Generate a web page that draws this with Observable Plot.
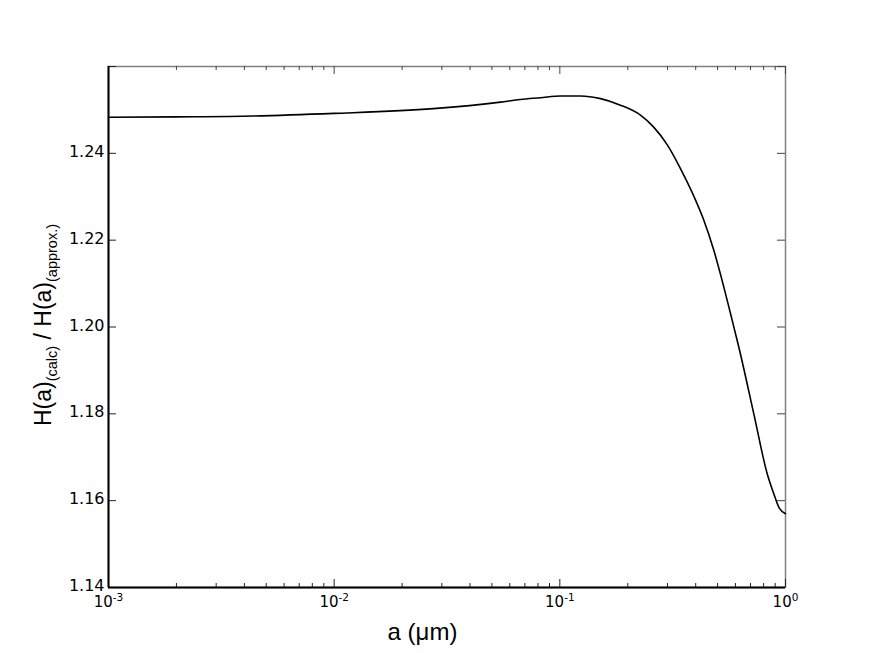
<!DOCTYPE html>
<html>
<head>
<meta charset="utf-8">
<script src="https://cdn.jsdelivr.net/npm/d3@7"></script>
<script src="https://cdn.jsdelivr.net/npm/@observablehq/plot@0.6"></script>
<style>
  html, body { margin: 0; padding: 0; background: #fff; }
  #chart { position: absolute; left: 0; top: 0; }
</style>
</head>
<body>
<div id="chart"></div>
<script>
// Grain radius a (µm) and ratio H(a)_(calc) / H(a)_(approx.)
const radius = [0.001, 0.002, 0.00439, 0.01, 0.0275, 0.0546, 0.0668, 0.0821, 0.1007, 0.1235, 0.1514, 0.1857, 0.2277, 0.2600, 0.2999, 0.3424, 0.3911, 0.4330, 0.4797, 0.5257, 0.5705, 0.6209, 0.7237, 0.8297, 0.8873, 0.9338, 1.0];
const ratio  = [1.2483, 1.2484, 1.2486, 1.2492, 1.2503, 1.2518, 1.2524, 1.2528, 1.2532, 1.2532, 1.2526, 1.2511, 1.2488, 1.2461, 1.2419, 1.2365, 1.2303, 1.2248, 1.2179, 1.2104, 1.2031, 1.1954, 1.1800, 1.1662, 1.1616, 1.1585, 1.1570];

const xMajorTicks = [0.001, 0.01, 0.1, 1];
const xTickLabels = ["10^-3", "10^-2", "10^-1", "10^0"];
const xMinorTicks = [0.001, 0.01, 0.1].flatMap(p => [2, 3, 4, 5, 6, 7, 8, 9].map(m => m * p));
const yTicks = [1.14, 1.16, 1.18, 1.20, 1.22, 1.24, 1.26];
const yTickLabels = [1.14, 1.16, 1.18, 1.20, 1.22, 1.24];
const xLabel = "a (μm)";
const yLabelParts = [["H(a)", false], ["(calc)", true], [" / H(a)", false], ["(approx.)", true]];

const data = radius.map((a, i) => ({a, r: ratio[i]}));

const W = 872, H = 653, mL = 108, mR = 87, mT = 66, mB = 66;
const plotW = W - mL - mR, plotH = H - mT - mB;

const xLabelOf = d => xTickLabels[xMajorTicks.findIndex(t => Math.abs(Math.log10(t) - Math.log10(d)) < 1e-6)];

const chart = Plot.plot({
  width: W, height: H,
  marginLeft: mL, marginRight: mR, marginTop: mT, marginBottom: mB,
  style: {fontFamily: "DejaVu Sans", fontSize: "15px", background: "white", color: "black", overflow: "visible"},
  x: {type: "log", domain: [0.001, 1], label: null},
  y: {domain: [1.14, 1.26], label: null},
  marks: [
    Plot.frame({stroke: "#808080", strokeWidth: 1.5}),
    // inward ticks, bottom
    Plot.ruleX(xMajorTicks, {x: d => d, insetTop: plotH - 8, stroke: "#222"}),
    Plot.ruleX(xMinorTicks, {x: d => d, insetTop: plotH - 4, stroke: "#222"}),
    // top
    Plot.ruleX(xMajorTicks, {x: d => d, insetBottom: plotH - 8, stroke: "#444"}),
    Plot.ruleX(xMinorTicks, {x: d => d, insetBottom: plotH - 4, stroke: "#444"}),
    // left
    Plot.ruleY(yTicks, {y: d => d, insetRight: plotW - 8, stroke: "#222"}),
    // right
    Plot.ruleY(yTicks, {y: d => d, insetLeft: plotW - 8, stroke: "#444"}),
    // black left / bottom spines
    Plot.ruleX([0.001], {x: d => d, stroke: "black", strokeWidth: 2}),
    Plot.ruleY([1.14], {y: d => d, stroke: "black", strokeWidth: 2}),
    Plot.axisX(xMajorTicks, {tickSize: 0, tickPadding: 9, tickFormat: xLabelOf, fontSize: 15, label: null}),
    Plot.axisY(yTickLabels, {tickSize: 0, tickPadding: 4, dy: -1.5, tickFormat: d => d.toFixed(2), fontSize: 16, label: null}),
    Plot.line(data, {x: "a", y: "r", stroke: "black", strokeWidth: 1.6, curve: "monotone-x"}),
    Plot.text([xLabel], {frameAnchor: "bottom", text: d => d, textAnchor: "middle", dx: -24.5, dy: 52, fontSize: 24, fontFamily: "Liberation Sans", fill: "black"}),
    Plot.text([yLabelParts.map(p => p[0]).join("")], {frameAnchor: "left", text: d => d, textAnchor: "middle", rotate: -90, dx: -65, dy: -2, fontSize: 23, fontFamily: "Liberation Sans", fill: "black", className: "ylabel"})
  ]
});

document.getElementById("chart").appendChild(chart);

// superscript exponents on x tick labels
d3.select(chart).selectAll('g[aria-label="x-axis tick label"] text').each(function () {
  const t = this.textContent;
  if (!t.includes("^")) return;
  const [base, exp] = t.split("^");
  const sel = d3.select(this);
  sel.text(null);
  sel.append("tspan").text(base);
  sel.append("tspan").attr("font-size", 10.5).attr("dy", -6).text(exp);
});

// subscripts in y label
d3.select(chart).selectAll("g.ylabel text").each(function () {
  const sel = d3.select(this);
  sel.text(null);
  let shifted = false;
  yLabelParts.forEach(([s, sub]) => {
    const ts = sel.append("tspan").text(s);
    if (sub && !shifted) { ts.attr("font-size", 14.5).attr("dy", 6); shifted = true; }
    else if (!sub && shifted) { ts.attr("dy", -6); shifted = false; }
    else if (sub) ts.attr("font-size", 14.5);
  });
});
</script>
</body>
</html>
